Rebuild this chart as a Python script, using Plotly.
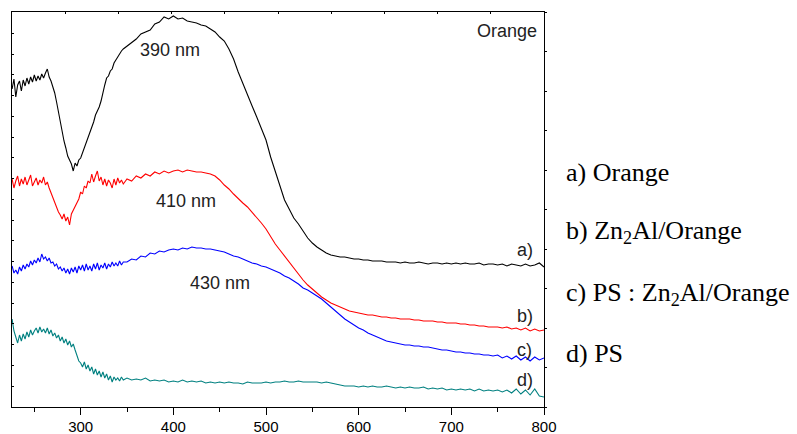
import plotly.graph_objects as go

# wavelength grids (nm)
wl_fine = list(range(226, 347, 2))      # 226..346 step 2
wl_coarse = list(range(350, 801, 5))    # 350..800 step 5

# absorbance (arbitrary units, offset curves)
orange_fine = [318, 328, 310, 322, 326, 316, 327, 321, 329, 323,
               330, 325, 332, 326, 331, 327, 333, 329, 334, 338,
               330, 326, 320, 314, 305, 295, 283, 275, 266, 259,
               251, 247, 243, 236, 244, 241, 247, 249, 254, 259,
               265, 270, 274, 280, 285, 292, 296, 300, 306, 315,
               322, 329, 331, 336, 338, 344, 347, 351, 353, 356,
               358]
orange_coarse = [361, 365, 368, 373, 375, 377, 383, 385, 390, 388,
                 391, 388, 389, 386, 385, 384, 382, 381, 378, 375,
                 370, 366, 358, 348, 335, 323, 312, 301, 290, 278,
                 267, 250, 235, 220, 207, 198, 189, 183, 176, 169,
                 164, 160, 157, 154, 152, 151, 150, 150, 149, 148,
                 148, 147, 147, 146, 146, 146, 145, 145, 145, 144,
                 145, 144, 144, 145, 144, 143, 144, 144, 143, 144,
                 143, 144, 143, 144, 143, 143, 144, 142, 143, 143,
                 142, 143, 141, 143, 142, 141, 143, 141, 142, 144,
                 140]

zn2al_fine = [228, 219, 226, 231, 221, 228, 223, 230, 222, 227,
              232, 221, 226, 229, 222, 227, 224, 230, 222, 225,
              219, 214, 209, 203, 199, 195, 192, 188, 193, 186,
              190, 182, 193, 197, 200, 205, 208, 215, 213, 221,
              219, 226, 224, 233, 225, 231, 236, 226, 230, 222,
              228, 221, 227, 224, 219, 228, 222, 229, 224, 227,
              223]
zn2al_coarse = [228, 226, 231, 229, 233, 231, 235, 233, 236, 234,
                236, 237, 235, 237, 236, 235, 235, 234, 233, 231,
                227, 222, 218, 213, 208, 204, 200, 195, 190, 184,
                178, 170, 163, 157, 151, 145, 138, 132, 127, 122,
                118, 114, 110, 107, 104, 102, 100, 98, 96, 95,
                94, 93, 92, 92, 91, 90, 90, 89, 89, 88,
                88, 88, 87, 87, 86, 86, 86, 85, 85, 84,
                84, 84, 83, 83, 82, 82, 81, 81, 80, 80,
                80, 79, 80, 78, 79, 77, 79, 76, 78, 76,
                77]

ps_zn2al_fine = [141, 134, 137, 133, 140, 136, 142, 138, 143, 140,
                 146, 142, 147, 144, 149, 145, 153, 148, 150, 146,
                 149, 144, 145, 141, 143, 138, 140, 136, 139, 134,
                 138, 133, 139, 135, 140, 134, 141, 137, 142, 136,
                 143, 137, 141, 136, 143, 138, 144, 137, 142, 139,
                 144, 138, 143, 140, 145, 141, 144, 141, 146, 142,
                 145]
ps_zn2al_coarse = [145, 148, 147, 151, 150, 154, 153, 156, 155, 157,
                   158, 157, 159, 158, 160, 159, 159, 158, 158, 157,
                   156, 155, 153, 151, 150, 148, 146, 144, 143, 141,
                   140, 138, 136, 134, 131, 129, 126, 123, 119, 117,
                   114, 111, 108, 104, 100, 96, 92, 88, 85, 82,
                   79, 77, 74, 72, 70, 68, 66, 65, 64, 63,
                   62, 62, 61, 61, 60, 60, 59, 58, 57, 57,
                   56, 55, 55, 54, 54, 53, 53, 52, 52, 51,
                   52, 49, 51, 48, 51, 47, 50, 46, 50, 47,
                   49]

ps_fine = [88, 76, 70, 64, 72, 66, 73, 68, 75, 70,
           77, 72, 76, 79, 74, 80, 75, 78, 74, 79,
           73, 77, 71, 74, 69, 72, 66, 70, 64, 68,
           62, 66, 60, 63, 57, 52, 46, 44, 40, 45,
           38, 42, 36, 40, 33, 38, 32, 36, 30, 35,
           29, 33, 27, 31, 25, 30, 27, 29, 26, 30,
           27]
ps_coarse = [29, 27, 28, 27, 29, 26, 27, 26, 27, 25,
             26, 25, 27, 25, 26, 25, 26, 24, 25, 24,
             25, 24, 25, 24, 24, 23, 25, 24, 24, 24,
             25, 24, 25, 25, 26, 25, 25, 26, 25, 25,
             25, 25, 24, 25, 24, 23, 22, 21, 21, 21,
             20, 21, 20, 21, 20, 20, 21, 20, 19, 20,
             19, 20, 19, 19, 20, 18, 19, 18, 19, 17,
             18, 17, 18, 17, 18, 16, 18, 16, 17, 16,
             17, 15, 17, 14, 18, 13, 17, 12, 18, 11,
             10]

series_names = ["a) Orange", "b) Zn<sub>2</sub>Al/Orange",
                "c) PS : Zn<sub>2</sub>Al/Orange", "d) PS"]
series_colors = ["#000000", "#ff0000", "#0000ff", "#008080"]
x_major_ticks = [300, 400, 500, 600, 700, 800]

wl = wl_fine + wl_coarse
all_series = [orange_fine + orange_coarse,
              zn2al_fine + zn2al_coarse,
              ps_zn2al_fine + ps_zn2al_coarse,
              ps_fine + ps_coarse]

fig = go.Figure()
for name, col, ys in zip(series_names, series_colors, all_series):
    fig.add_trace(go.Scatter(x=wl, y=ys, mode="lines", name=name,
                             line=dict(color=col, width=1.1),
                             showlegend=False, hoverinfo="skip"))

# dummy trace to activate the mirrored (top/right) frame axes
fig.add_trace(go.Scatter(x=[None], y=[None], xaxis="x2", yaxis="y2",
                         mode="lines", showlegend=False, hoverinfo="skip"))

XR = [225.9, 800]
YR = [0, 395]
sans = "Liberation Sans, Arial, sans-serif"
serif = "Liberation Serif, Times New Roman, serif"

fig.update_layout(
    template="none",
    width=797, height=434,
    margin=dict(l=12, r=253, t=12, b=27, autoexpand=False),
    paper_bgcolor="white", plot_bgcolor="white",
    xaxis=dict(range=XR, tickmode="array", tickvals=x_major_ticks,
               ticks="outside", ticklen=7, tickwidth=1.2, tickcolor="black",
               minor=dict(tick0=250, dtick=50, ticks="outside", ticklen=4,
                          tickwidth=1.2, tickcolor="black", showgrid=False),
               showline=True, linecolor="black", linewidth=1.4,
               showgrid=False, zeroline=False, automargin=False,
               ticklabelstandoff=-1,
               tickfont=dict(family=sans, size=15, color="black")),
    xaxis2=dict(range=XR, overlaying="x", side="top", anchor="y",
                tick0=225.9, dtick=57.41, ticks="inside", ticklen=2,
                tickcolor="black", showticklabels=False,
                showline=True, linecolor="black", linewidth=1.4,
                showgrid=False, zeroline=False, automargin=False),
    yaxis=dict(range=YR, tick0=0, dtick=20.76, ticks="inside", ticklen=2,
               tickcolor="black", showticklabels=False,
               showline=True, linecolor="black", linewidth=1.4,
               showgrid=False, zeroline=False, automargin=False),
    yaxis2=dict(range=YR, overlaying="y", side="right", anchor="x",
                tick0=0, dtick=39.5, ticks="outside", ticklen=2,
                tickcolor="black", showticklabels=False,
                showline=True, linecolor="black", linewidth=1.4,
                showgrid=False, zeroline=False, automargin=False),
)

# in-plot labels
peak_labels = [("390 nm", 396, 357), ("410 nm", 414, 206), ("430 nm", 450, 124)]
for txt, x, y in peak_labels:
    fig.add_annotation(x=x, y=y, text=txt, showarrow=False,
                       font=dict(family=sans, size=18, color="#222222"),
                       xanchor="center", yanchor="middle")

curve_tags = [("a)", 157), ("b)", 91), ("c)", 57), ("d)", 27)]
for txt, y in curve_tags:
    fig.add_annotation(x=779, y=y, text=txt, showarrow=False,
                       font=dict(family=sans, size=18, color="#222222"),
                       xanchor="center", yanchor="middle")

fig.add_annotation(x=795, y=376, text="Orange", showarrow=False,
                   font=dict(family=sans, size=18, color="#222222"),
                   xanchor="right", yanchor="middle")

# right-hand key
key_y = [0.594, 0.442, 0.287, 0.135]
for name, y in zip(series_names, key_y):
    fig.add_annotation(xref="paper", yref="paper", x=1.038, y=y, text=name,
                       showarrow=False, xanchor="left", yanchor="middle",
                       font=dict(family=serif, size=26, color="black"))

fig.write_html("out.html", config={"displayModeBar": False},
               post_script="document.body.style.margin='0';"
                           "document.body.style.overflow='hidden';")
